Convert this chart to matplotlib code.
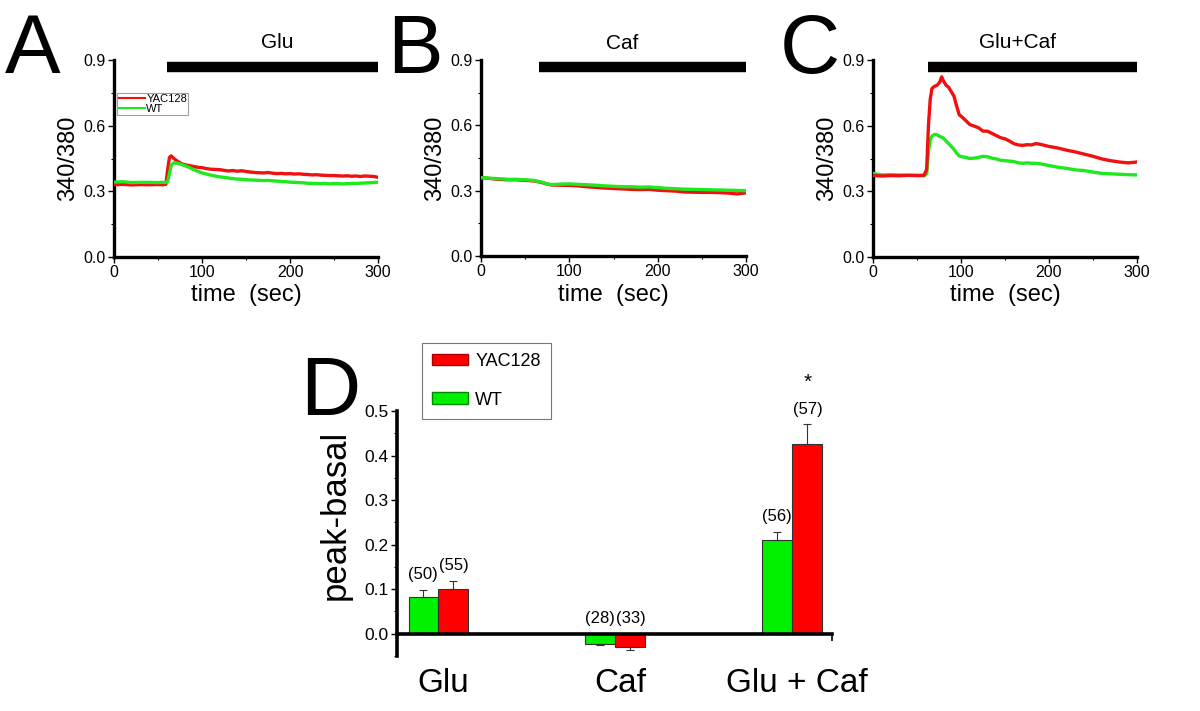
import matplotlib
matplotlib.use("Agg")
import matplotlib.pyplot as plt
from matplotlib.patches import Patch
from matplotlib.ticker import MultipleLocator, FixedLocator
import matplotlib.transforms as mtransforms

plt.rcParams['font.family'] = ['Liberation Sans', 'DejaVu Sans']

RED = '#f01010'
GREEN = '#1ee81e'
BAR_RED = '#ff0000'
BAR_GREEN = '#00f000'

# ---------------- Panel A (Glu) ----------------
time_a = [0, 10, 20, 30, 40, 50, 55, 59, 61, 63, 65, 68, 72, 76, 80, 85, 90, 95, 100, 105,
          110, 115, 120, 125, 130, 135, 140, 145, 150, 155, 160, 165, 170, 175, 180, 185,
          190, 195, 200, 205, 210, 215, 220, 225, 230, 235, 240, 245, 250, 255, 260, 265,
          270, 275, 280, 285, 290, 295, 300]
yac_a = [0.330, 0.332, 0.329, 0.331, 0.330, 0.331, 0.330, 0.332, 0.400, 0.455, 0.462, 0.450,
         0.438, 0.428, 0.422, 0.418, 0.414, 0.410, 0.408, 0.404, 0.401, 0.400, 0.399, 0.396,
         0.393, 0.395, 0.392, 0.394, 0.391, 0.388, 0.386, 0.385, 0.384, 0.386, 0.383, 0.381,
         0.382, 0.380, 0.381, 0.379, 0.380, 0.378, 0.377, 0.375, 0.376, 0.374, 0.373, 0.372,
         0.372, 0.371, 0.370, 0.371, 0.369, 0.370, 0.368, 0.370, 0.369, 0.368, 0.364]
wt_a = [0.342, 0.344, 0.340, 0.341, 0.341, 0.340, 0.341, 0.340, 0.345, 0.380, 0.420, 0.430,
        0.428, 0.424, 0.418, 0.410, 0.400, 0.392, 0.384, 0.379, 0.374, 0.370, 0.366, 0.364,
        0.361, 0.358, 0.356, 0.355, 0.353, 0.352, 0.351, 0.350, 0.349, 0.350, 0.348, 0.347,
        0.345, 0.344, 0.342, 0.341, 0.340, 0.339, 0.337, 0.336, 0.336, 0.335, 0.336, 0.334,
        0.335, 0.335, 0.334, 0.335, 0.336, 0.336, 0.337, 0.338, 0.339, 0.340, 0.342]

# ---------------- Panel B (Caf) ----------------
time_b = [0, 10, 20, 30, 40, 50, 60, 70, 75, 80, 90, 100, 110, 120, 130, 140, 150, 160,
          170, 180, 190, 200, 210, 220, 230, 240, 250, 260, 270, 280, 290, 300]
wt_b = [0.360, 0.357, 0.355, 0.352, 0.352, 0.350, 0.347, 0.338, 0.330, 0.328, 0.330, 0.331,
        0.329, 0.327, 0.325, 0.322, 0.320, 0.318, 0.318, 0.316, 0.317, 0.314, 0.311, 0.309,
        0.307, 0.306, 0.305, 0.304, 0.303, 0.302, 0.301, 0.300]
yac_b = [0.360, 0.356, 0.352, 0.350, 0.350, 0.347, 0.345, 0.336, 0.330, 0.326, 0.325, 0.324,
         0.322, 0.318, 0.315, 0.312, 0.310, 0.308, 0.306, 0.305, 0.306, 0.302, 0.300, 0.298,
         0.294, 0.293, 0.292, 0.292, 0.291, 0.289, 0.285, 0.290]

# ---------------- Panel C (Glu+Caf) ----------------
time_c = [0, 10, 20, 30, 40, 50, 58, 61, 63, 65, 67, 70, 73, 76, 78, 80, 83, 86, 89, 92, 95,
          98, 101, 105, 110, 115, 120, 125, 130, 135, 140, 145, 150, 155, 160, 165, 170, 175,
          180, 185, 190, 195, 200, 210, 220, 230, 240, 250, 260, 270, 280, 290, 300]
yac_c = [0.372, 0.370, 0.372, 0.371, 0.373, 0.372, 0.374, 0.400, 0.600, 0.720, 0.770, 0.780,
         0.785, 0.800, 0.823, 0.805, 0.785, 0.775, 0.755, 0.735, 0.690, 0.650, 0.640, 0.625,
         0.605, 0.598, 0.590, 0.575, 0.575, 0.565, 0.555, 0.545, 0.540, 0.530, 0.518, 0.512,
         0.510, 0.513, 0.512, 0.518, 0.515, 0.510, 0.505, 0.498, 0.488, 0.480, 0.470, 0.460,
         0.448, 0.440, 0.434, 0.430, 0.434]
wt_c = [0.382, 0.375, 0.376, 0.375, 0.374, 0.373, 0.370, 0.380, 0.480, 0.535, 0.552, 0.560,
        0.558, 0.550, 0.548, 0.543, 0.530, 0.518, 0.505, 0.492, 0.475, 0.462, 0.458, 0.455,
        0.450, 0.452, 0.455, 0.460, 0.458, 0.452, 0.448, 0.442, 0.440, 0.438, 0.436, 0.430,
        0.428, 0.430, 0.428, 0.428, 0.426, 0.422, 0.418, 0.410, 0.405, 0.398, 0.395, 0.388,
        0.382, 0.380, 0.378, 0.376, 0.375]

panel_letters = ['A', 'B', 'C']
stim_labels = ['Glu', 'Caf', 'Glu+Caf']
stim_start = [60, 66, 62.5]
stim_end = 300
stim_label_x = [186, 160, 164]

# ---------------- Panel D (bars) ----------------
categories = ['Glu', 'Caf', 'Glu + Caf']
wt_vals = [0.083, -0.022, 0.210]
wt_err = [0.015, 0.004, 0.018]
yac_vals = [0.101, -0.029, 0.427]
yac_err = [0.018, 0.007, 0.043]
wt_n = ['(50)', '(28)', '(56)']
yac_n = ['(55)', '(33)', '(57)']
sig_marks = ['', '', '*']

fig = plt.figure(figsize=(12, 7.11), dpi=100)

rects = [[114/1200, 1-257/711, 264/1200, 197/711],
         [481/1200, 1-256/711, 265/1200, 196/711],
         [873/1200, 1-257/711, 264/1200, 197/711]]
traces = [(time_a, yac_a, wt_a), (time_b, yac_b, wt_b), (time_c, yac_c, wt_c)]
letter_x = [5, 387, 780]

for i, (rect, (t, yac, wt)) in enumerate(zip(rects, traces)):
    ax = fig.add_axes(rect)
    if i == 1:
        ax.plot(t, yac, color=RED, lw=2.4, label='YAC128', zorder=3)
        ax.plot(t, wt, color=GREEN, lw=2.4, label='WT', zorder=4)
    else:
        ax.plot(t, yac, color=RED, lw=2.4, label='YAC128', zorder=4 if i == 2 else 3)
        ax.plot(t, wt, color=GREEN, lw=2.4, label='WT', zorder=3 if i == 2 else 4)
    ax.set_xlim(0, 300)
    ax.set_ylim(0, 0.9)
    ax.set_xticks([0, 100, 200, 300])
    ax.set_yticks([0.0, 0.3, 0.6, 0.9])
    ax.set_yticklabels(['0.0', '0.3', '0.6', '0.9'])
    ax.xaxis.set_minor_locator(MultipleLocator(50))
    ax.yaxis.set_minor_locator(MultipleLocator(0.15))
    for s in ['top', 'right']:
        ax.spines[s].set_visible(False)
    for s in ['left', 'bottom']:
        ax.spines[s].set_linewidth(2.4)
    ax.tick_params(which='major', length=4, width=1, labelsize=11.5, pad=2)
    ax.tick_params(which='minor', length=2.5, width=0.8)
    ax.set_ylabel('340/380', fontsize=17, labelpad=3)
    ax.set_xlabel('time  (sec)', fontsize=17, labelpad=3)
    ax.plot([stim_start[i], stim_end], [0.87, 0.87], color='black', lw=7.5,
            solid_capstyle='butt', clip_on=False)
    ax.text(stim_label_x[i], 0.978, stim_labels[i], ha='center', va='center', fontsize=15)
    fig.text(letter_x[i]/1200, 1-73/711, panel_letters[i], fontsize=60,
             ha='left', va='baseline')
    if i == 0:
        leg = ax.legend(loc='upper left', bbox_to_anchor=(0.012, 0.835), fontsize=8,
                        frameon=True, fancybox=False, edgecolor='#888888',
                        borderpad=0.12, labelspacing=0.0, handlelength=2.4,
                        handletextpad=0.1, borderaxespad=0)
        leg.get_frame().set_linewidth(0.8)
        for ln in leg.get_lines():
            ln.set_linewidth(1.5)

# Panel D
axd = fig.add_axes([397/1200, 1-656/711, 435/1200, 245/711])
xs = list(range(len(categories)))
bw = 0.167
xg = [x - bw/2 for x in xs]
xr = [x + bw/2 for x in xs]
wt_yerr = [[0 if v >= 0 else e for v, e in zip(wt_vals, wt_err)],
           [e if v >= 0 else 0 for v, e in zip(wt_vals, wt_err)]]
yac_yerr = [[0 if v >= 0 else e for v, e in zip(yac_vals, yac_err)],
            [e if v >= 0 else 0 for v, e in zip(yac_vals, yac_err)]]
axd.bar(xg, wt_vals, width=bw, color=BAR_GREEN, edgecolor='#333333', linewidth=0.8,
        yerr=wt_yerr, error_kw=dict(ecolor='#333333', elinewidth=0.8, capsize=3, capthick=0.8),
        label='WT', zorder=2)
axd.bar(xr, yac_vals, width=bw, color=BAR_RED, edgecolor='#333333', linewidth=0.8,
        yerr=yac_yerr, error_kw=dict(ecolor='#333333', elinewidth=0.8, capsize=3, capthick=0.8),
        label='YAC128', zorder=2)
axd.set_xlim(-0.232, 2.226)
axd.set_ylim(-0.05, 0.5)
axd.set_yticks([0.0, 0.1, 0.2, 0.3, 0.4, 0.5])
axd.set_yticklabels(['0.0', '0.1', '0.2', '0.3', '0.4', '0.5'])
axd.yaxis.set_minor_locator(MultipleLocator(0.05))
axd.spines['top'].set_visible(False)
axd.spines['right'].set_visible(False)
axd.spines['bottom'].set_position(('data', 0))
axd.spines['bottom'].set_linewidth(2.6)
axd.spines['bottom'].set_zorder(3)
axd.spines['left'].set_linewidth(2.6)
axd.xaxis.set_major_locator(FixedLocator([2.226]))
axd.set_xticklabels([''])
axd.tick_params(axis='x', which='major', length=5, width=1.2)
axd.tick_params(axis='y', which='major', length=4, width=1, labelsize=12.5, pad=2)
axd.tick_params(axis='y', which='minor', length=2.5, width=0.8)
axd.set_ylabel('peak-basal', fontsize=25, labelpad=2)
axd.yaxis.set_label_coords(-0.105, 0.575)

trans = mtransforms.blended_transform_factory(axd.transData, fig.transFigure)
for x, c in zip(xs, categories):
    axd.text(x + 0.03, 1-683/711, c, transform=trans, ha='center', va='center', fontsize=24)

for x, v, e, n in zip(xg, wt_vals, wt_err, wt_n):
    top = v + e if v >= 0 else 0
    axd.annotate(n, (x, top), xytext=(0, 11), textcoords='offset points',
                 ha='center', va='center', fontsize=12)
for x, v, e, n, s in zip(xr, yac_vals, yac_err, yac_n, sig_marks):
    top = v + e if v >= 0 else 0
    axd.annotate(n, (x, top), xytext=(1, 11), textcoords='offset points',
                 ha='center', va='center', fontsize=12)
    if s:
        axd.annotate(s, (x, top), xytext=(1, 30), textcoords='offset points',
                     ha='center', va='center', fontsize=15)

fig.text(300/1200, 1-415/711, 'D', fontsize=60, ha='left', va='baseline')

handles = [Patch(facecolor=BAR_RED, edgecolor='#aa0000', label='YAC128'),
           Patch(facecolor=BAR_GREEN, edgecolor='#008800', label='WT')]
legd = fig.legend(handles=handles, loc='upper left', bbox_to_anchor=(422/1200, 1-343/711),
                  fontsize=13, frameon=True, fancybox=False, edgecolor='#555555',
                  borderpad=0.55, labelspacing=1.2, handlelength=2.0, handleheight=0.6,
                  handletextpad=0.4, borderaxespad=0)
legd.get_frame().set_linewidth(0.8)

fig.savefig('out.png', dpi=100)
